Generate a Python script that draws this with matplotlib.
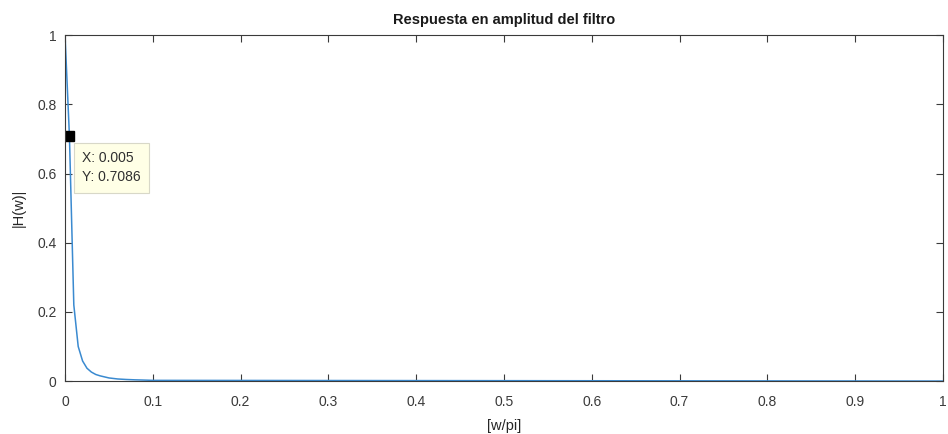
import matplotlib.pyplot as plt

plt.rcParams['font.family'] = ['Liberation Sans', 'DejaVu Sans']

# magnitude response (normalised frequency w/pi)
w = [0.0, 0.005, 0.01, 0.015, 0.02, 0.025, 0.03, 0.035, 0.04, 0.05,
     0.06, 0.07, 0.08, 0.09, 0.1, 1.0]
h = [1.0, 0.7086, 0.22, 0.10, 0.058, 0.037, 0.026, 0.019, 0.015, 0.009,
     0.006, 0.0045, 0.0035, 0.0028, 0.002, 0.0]

tip_x = 0.005
tip_y = 0.7086

x_ticks = [0, 0.1, 0.2, 0.3, 0.4, 0.5, 0.6, 0.7, 0.8, 0.9, 1]
x_labels = ["0", "0.1", "0.2", "0.3", "0.4", "0.5", "0.6", "0.7", "0.8", "0.9", "1"]
y_ticks = [0, 0.2, 0.4, 0.6, 0.8, 1]
y_labels = ["0", "0.2", "0.4", "0.6", "0.8", "1"]

gray = "#3a3a3a"

fig = plt.figure(figsize=(9.48, 4.34), dpi=100)
ax = fig.add_axes([0.0686, 0.122, 0.926, 0.797])

ax.plot(w, h, color="#3a8ad0", linewidth=1.1)
ax.plot([tip_x], [tip_y], marker="s", color="black", markersize=7.5, linestyle="none")
ax.annotate(f"X: {tip_x}\nY: {tip_y}", xy=(tip_x, tip_y), xytext=(9, -11),
            textcoords="offset points", ha="left", va="top", fontsize=10,
            color="#303030", linespacing=1.45,
            bbox=dict(boxstyle="square,pad=0.6", facecolor="#FFFFE6",
                      edgecolor="#d8d8c8", linewidth=0.8))

ax.set_xlim(0, 1)
ax.set_ylim(0, 1)
ax.set_xticks(x_ticks)
ax.set_xticklabels(x_labels)
ax.set_yticks(y_ticks)
ax.set_yticklabels(y_labels)
ax.tick_params(direction="in", top=True, right=True, length=5, width=0.8,
               colors=gray, labelsize=10)
ax.tick_params(axis="x", pad=10)
ax.tick_params(axis="y", pad=6)
for s in ax.spines.values():
    s.set_color(gray)
    s.set_linewidth(0.8)

ax.set_title("Respuesta en amplitud del filtro", fontsize=10.5, fontweight="bold",
             color="#1a1a1a", pad=8)
ax.set_xlabel("[w/pi]", fontsize=10.5, color="#262626", labelpad=7)
ax.set_ylabel("|H(w)|", fontsize=10.5, color="#262626", labelpad=8)

fig.savefig("out.png", dpi=100)
